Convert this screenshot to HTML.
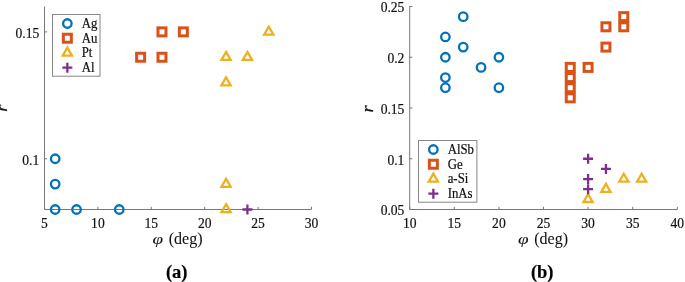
<!DOCTYPE html>
<html><head><meta charset="utf-8"><style>
html,body{margin:0;padding:0;background:#fff;width:685px;height:282px;overflow:hidden}
svg{display:block}
text{font-family:"Liberation Serif","Times New Roman",serif;fill:#111;stroke:#111;stroke-width:0.2px}
.t{font-size:14px}
.lg{font-size:12.8px}
.xl{font-size:16px;stroke-width:0.05px}
.yl{font-size:17px;font-style:italic}
.sub{font-size:18px;font-weight:bold;fill:#000}
</style></head><body>
<svg width="685" height="282" viewBox="0 0 685 282">
<rect width="685" height="282" fill="#fff"/>
<path d="M44.5 6.5V209.5H311.5" fill="none" stroke="#787878" stroke-width="1.0"/>
<text transform="translate(44.50 228.1) scale(0.97 1.05)" text-anchor="middle" class="t">5</text>
<text transform="translate(97.90 228.1) scale(0.97 1.05)" text-anchor="middle" class="t">10</text>
<text transform="translate(151.30 228.1) scale(0.97 1.05)" text-anchor="middle" class="t">15</text>
<text transform="translate(204.70 228.1) scale(0.97 1.05)" text-anchor="middle" class="t">20</text>
<text transform="translate(258.10 228.1) scale(0.97 1.05)" text-anchor="middle" class="t">25</text>
<text transform="translate(311.50 228.1) scale(0.97 1.05)" text-anchor="middle" class="t">30</text>
<text transform="translate(39.20 164.55) scale(0.97 1.05)" text-anchor="end" class="t">0.1</text>
<text transform="translate(39.20 37.68) scale(0.97 1.05)" text-anchor="end" class="t">0.15</text>
<path d="M44.50 209.5v-2.7M97.90 209.5v-2.7M151.30 209.5v-2.7M204.70 209.5v-2.7M258.10 209.5v-2.7M311.50 209.5v-2.7M44.5 158.75h2.7M44.5 31.88h2.7" fill="none" stroke="#787878" stroke-width="1.0"/>
<circle cx="55.18" cy="158.75" r="4.25" fill="none" stroke="#0072BD" stroke-width="2.3"/>
<circle cx="55.18" cy="184.12" r="4.25" fill="none" stroke="#0072BD" stroke-width="2.3"/>
<circle cx="55.18" cy="209.50" r="4.25" fill="none" stroke="#0072BD" stroke-width="2.3"/>
<circle cx="76.54" cy="209.50" r="4.25" fill="none" stroke="#0072BD" stroke-width="2.3"/>
<circle cx="119.26" cy="209.50" r="4.25" fill="none" stroke="#0072BD" stroke-width="2.3"/>
<rect x="136.62" y="53.25" width="8.0" height="8.0" fill="none" stroke="#D95319" stroke-width="3.0"/>
<rect x="157.98" y="27.88" width="8.0" height="8.0" fill="none" stroke="#D95319" stroke-width="3.0"/>
<rect x="157.98" y="53.25" width="8.0" height="8.0" fill="none" stroke="#D95319" stroke-width="3.0"/>
<rect x="179.34" y="27.88" width="8.0" height="8.0" fill="none" stroke="#D95319" stroke-width="3.0"/>
<polygon points="226.06,51.95 230.65,59.90 221.47,59.90" fill="none" stroke="#EDB120" stroke-width="2.3" stroke-linejoin="miter"/>
<polygon points="247.42,51.95 252.01,59.90 242.83,59.90" fill="none" stroke="#EDB120" stroke-width="2.3" stroke-linejoin="miter"/>
<polygon points="268.78,26.58 273.37,34.53 264.19,34.53" fill="none" stroke="#EDB120" stroke-width="2.3" stroke-linejoin="miter"/>
<polygon points="226.06,77.33 230.65,85.28 221.47,85.28" fill="none" stroke="#EDB120" stroke-width="2.3" stroke-linejoin="miter"/>
<polygon points="226.06,178.82 230.65,186.78 221.47,186.78" fill="none" stroke="#EDB120" stroke-width="2.3" stroke-linejoin="miter"/>
<polygon points="226.06,204.20 230.65,212.15 221.47,212.15" fill="none" stroke="#EDB120" stroke-width="2.3" stroke-linejoin="miter"/>
<path d="M242.42 209.50H252.42M247.42 204.50V214.50" fill="none" stroke="#7E2F8E" stroke-width="2.3"/>
<rect x="52.5" y="14.5" width="47.50" height="61.70" fill="#fff" stroke="#868686" stroke-width="1.0"/>
<circle cx="67.35" cy="23.50" r="4.25" fill="none" stroke="#0072BD" stroke-width="2.3"/>
<text transform="translate(81.70 28.00) scale(1 1.1)" class="lg">Ag</text>
<rect x="63.35" y="34.22" width="8.0" height="8.0" fill="none" stroke="#D95319" stroke-width="3.0"/>
<text transform="translate(81.70 42.72) scale(1 1.1)" class="lg">Au</text>
<polygon points="67.35,47.64 71.94,55.59 62.76,55.59" fill="none" stroke="#EDB120" stroke-width="2.3" stroke-linejoin="miter"/>
<text transform="translate(81.70 57.44) scale(1 1.1)" class="lg">Pt</text>
<path d="M62.35 67.66H72.35M67.35 62.66V72.66" fill="none" stroke="#7E2F8E" stroke-width="2.3"/>
<text transform="translate(81.70 72.16) scale(1 1.1)" class="lg">Al</text>
<text transform="translate(152.50 244.2) scale(1.2 0.92)" class="xl" font-style="italic">φ</text>
<text x="185.65" y="244.2" text-anchor="middle" class="xl">(deg)</text>
<text transform="translate(176.70 277.5) scale(1.03 1)" text-anchor="middle" class="sub">(a)</text>
<text transform="translate(7.00 108.20) rotate(-90) scale(1.08 1)" text-anchor="middle" class="yl">r</text>
<path d="M409.7 6.5V209.5H677.3" fill="none" stroke="#787878" stroke-width="1.0"/>
<text transform="translate(409.70 228.1) scale(0.97 1.05)" text-anchor="middle" class="t">10</text>
<text transform="translate(454.30 228.1) scale(0.97 1.05)" text-anchor="middle" class="t">15</text>
<text transform="translate(498.90 228.1) scale(0.97 1.05)" text-anchor="middle" class="t">20</text>
<text transform="translate(543.50 228.1) scale(0.97 1.05)" text-anchor="middle" class="t">25</text>
<text transform="translate(588.10 228.1) scale(0.97 1.05)" text-anchor="middle" class="t">30</text>
<text transform="translate(632.70 228.1) scale(0.97 1.05)" text-anchor="middle" class="t">35</text>
<text transform="translate(677.30 228.1) scale(0.97 1.05)" text-anchor="middle" class="t">40</text>
<text transform="translate(404.40 215.30) scale(0.97 1.05)" text-anchor="end" class="t">0.05</text>
<text transform="translate(404.40 164.55) scale(0.97 1.05)" text-anchor="end" class="t">0.1</text>
<text transform="translate(404.40 113.80) scale(0.97 1.05)" text-anchor="end" class="t">0.15</text>
<text transform="translate(404.40 63.05) scale(0.97 1.05)" text-anchor="end" class="t">0.2</text>
<text transform="translate(404.40 12.30) scale(0.97 1.05)" text-anchor="end" class="t">0.25</text>
<path d="M409.70 209.5v-2.7M454.30 209.5v-2.7M498.90 209.5v-2.7M543.50 209.5v-2.7M588.10 209.5v-2.7M632.70 209.5v-2.7M677.30 209.5v-2.7M409.7 209.50h2.7M409.7 158.75h2.7M409.7 108.00h2.7M409.7 57.25h2.7M409.7 6.50h2.7" fill="none" stroke="#787878" stroke-width="1.0"/>
<circle cx="445.38" cy="36.95" r="4.25" fill="none" stroke="#0072BD" stroke-width="2.3"/>
<circle cx="445.38" cy="57.25" r="4.25" fill="none" stroke="#0072BD" stroke-width="2.3"/>
<circle cx="445.38" cy="77.55" r="4.25" fill="none" stroke="#0072BD" stroke-width="2.3"/>
<circle cx="445.38" cy="87.70" r="4.25" fill="none" stroke="#0072BD" stroke-width="2.3"/>
<circle cx="463.22" cy="16.65" r="4.25" fill="none" stroke="#0072BD" stroke-width="2.3"/>
<circle cx="463.22" cy="47.10" r="4.25" fill="none" stroke="#0072BD" stroke-width="2.3"/>
<circle cx="481.06" cy="67.40" r="4.25" fill="none" stroke="#0072BD" stroke-width="2.3"/>
<circle cx="498.90" cy="57.25" r="4.25" fill="none" stroke="#0072BD" stroke-width="2.3"/>
<circle cx="498.90" cy="87.70" r="4.25" fill="none" stroke="#0072BD" stroke-width="2.3"/>
<rect x="566.26" y="93.85" width="8.0" height="8.0" fill="none" stroke="#D95319" stroke-width="3.0"/>
<rect x="566.26" y="83.70" width="8.0" height="8.0" fill="none" stroke="#D95319" stroke-width="3.0"/>
<rect x="566.26" y="73.55" width="8.0" height="8.0" fill="none" stroke="#D95319" stroke-width="3.0"/>
<rect x="566.26" y="63.40" width="8.0" height="8.0" fill="none" stroke="#D95319" stroke-width="3.0"/>
<rect x="584.10" y="63.40" width="8.0" height="8.0" fill="none" stroke="#D95319" stroke-width="3.0"/>
<rect x="601.94" y="43.10" width="8.0" height="8.0" fill="none" stroke="#D95319" stroke-width="3.0"/>
<rect x="601.94" y="22.80" width="8.0" height="8.0" fill="none" stroke="#D95319" stroke-width="3.0"/>
<rect x="619.78" y="22.80" width="8.0" height="8.0" fill="none" stroke="#D95319" stroke-width="3.0"/>
<rect x="619.78" y="12.65" width="8.0" height="8.0" fill="none" stroke="#D95319" stroke-width="3.0"/>
<polygon points="588.10,194.05 592.69,202.00 583.51,202.00" fill="none" stroke="#EDB120" stroke-width="2.3" stroke-linejoin="miter"/>
<polygon points="605.94,183.90 610.53,191.85 601.35,191.85" fill="none" stroke="#EDB120" stroke-width="2.3" stroke-linejoin="miter"/>
<polygon points="623.78,173.75 628.37,181.70 619.19,181.70" fill="none" stroke="#EDB120" stroke-width="2.3" stroke-linejoin="miter"/>
<polygon points="641.62,173.75 646.21,181.70 637.03,181.70" fill="none" stroke="#EDB120" stroke-width="2.3" stroke-linejoin="miter"/>
<path d="M583.10 158.75H593.10M588.10 153.75V163.75" fill="none" stroke="#7E2F8E" stroke-width="2.3"/>
<path d="M583.10 179.05H593.10M588.10 174.05V184.05" fill="none" stroke="#7E2F8E" stroke-width="2.3"/>
<path d="M583.10 189.20H593.10M588.10 184.20V194.20" fill="none" stroke="#7E2F8E" stroke-width="2.3"/>
<path d="M600.94 168.90H610.94M605.94 163.90V173.90" fill="none" stroke="#7E2F8E" stroke-width="2.3"/>
<rect x="418.5" y="140.5" width="58.40" height="61.70" fill="#fff" stroke="#868686" stroke-width="1.0"/>
<circle cx="433.35" cy="149.50" r="4.25" fill="none" stroke="#0072BD" stroke-width="2.3"/>
<text transform="translate(447.70 154.00) scale(1 1.1)" class="lg">AlSb</text>
<rect x="429.35" y="160.22" width="8.0" height="8.0" fill="none" stroke="#D95319" stroke-width="3.0"/>
<text transform="translate(447.70 168.72) scale(1 1.1)" class="lg">Ge</text>
<polygon points="433.35,173.64 437.94,181.59 428.76,181.59" fill="none" stroke="#EDB120" stroke-width="2.3" stroke-linejoin="miter"/>
<text transform="translate(447.70 183.44) scale(1 1.1)" class="lg">a-Si</text>
<path d="M428.35 193.66H438.35M433.35 188.66V198.66" fill="none" stroke="#7E2F8E" stroke-width="2.3"/>
<text transform="translate(447.70 198.16) scale(1 1.1)" class="lg">InAs</text>
<text transform="translate(518.00 244.2) scale(1.2 0.92)" class="xl" font-style="italic">φ</text>
<text x="551.15" y="244.2" text-anchor="middle" class="xl">(deg)</text>
<text transform="translate(542.20 277.5) scale(1.03 1)" text-anchor="middle" class="sub">(b)</text>
<text transform="translate(372.90 108.90) rotate(-90) scale(1.08 1)" text-anchor="middle" class="yl">r</text>
</svg>
</body></html>
